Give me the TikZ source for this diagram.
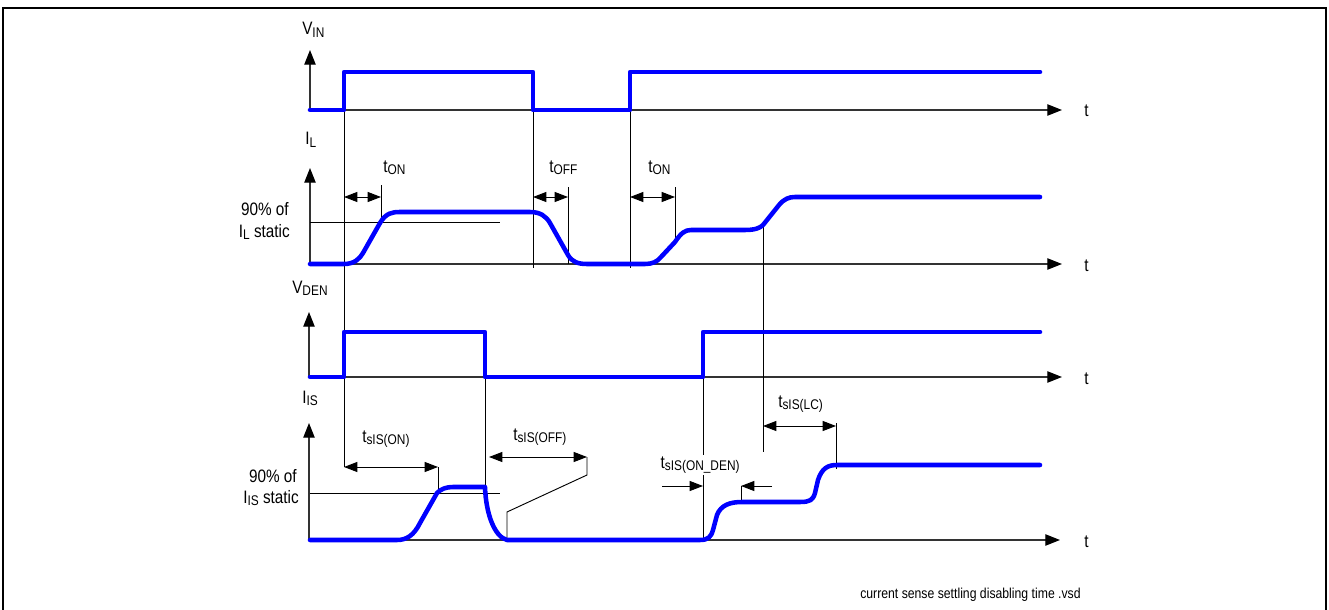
\documentclass[tikz,border=0pt]{standalone}
\usepackage{fontspec}
\setmainfont{Liberation Sans}[FakeStretch=0.85]
\usetikzlibrary{arrows.meta}
\newcommand{\sbx}[1]{\raisebox{-0.25ex}{\fontsize{10.5}{10.5}\selectfont #1}}
\begin{document}
\begin{tikzpicture}[x=0.75pt,y=-0.75pt,
  sig/.style={color=blue,line width=3.4pt,line cap=round,line join=round},
  guide/.style={line width=0.7pt},
  axis/.style={line width=0.9pt,color=black!80,-{Triangle[length=11pt,width=8.5pt,color=black]}},
  dimarr/.style={line width=0.75pt,{Triangle[length=10pt,width=7.5pt]}-{Triangle[length=10pt,width=7.5pt]}},
  onearr/.style={line width=0.75pt,-{Triangle[length=10pt,width=7.5pt]}},
  lbl/.style={inner sep=0pt,font=\fontsize{13.5}{16}\selectfont},
  small/.style={inner sep=0pt,font=\fontsize{10.8}{12}\selectfont}]
\useasboundingbox (0,0) rectangle (1329,610);
% frame
\draw[line width=1.5pt] (3,615) -- (3,8) -- (1326,8) -- (1326,615);

% axes
\draw[axis] (310,110) -- (310,50);
\draw[axis] (310,110) -- (1062,110);
\draw[axis] (310,264) -- (310,168);
\draw[axis] (310,264) -- (1062,264);
\draw[axis] (309,377) -- (309,312);
\draw[axis] (309,377) -- (1062,377);
\draw[axis] (309,540) -- (309,423);
\draw[axis] (309,540) -- (1060,540);

% guide lines
\draw[guide] (344,72) -- (344,467);
\draw[guide] (533,72) -- (533,268);
\draw[guide] (630,72) -- (630,268);
\draw[guide] (381,185) -- (381,222);
\draw[guide] (568,187) -- (568,264);
\draw[guide] (675,187) -- (675,243);
\draw[guide] (763,226) -- (763,452);
\draw[guide] (485,332) -- (485,487);
\draw[guide] (703,332) -- (703,540);
\draw[guide] (310,222) -- (500,222);
\draw[guide] (310,493) -- (500,493);
\draw[guide] (438,467) -- (438,493);
\draw[guide] (587,457) -- (587,475) -- (507,512) -- (507,540);
\draw[guide] (741,486) -- (741,502);
\draw[guide] (836,423) -- (836,469);

% dimension arrows
\draw[dimarr] (344,197) -- (381,197);
\draw[dimarr] (533,197) -- (568,197);
\draw[dimarr] (630,197) -- (675,197);
\draw[dimarr] (344,467) -- (438,467);
\draw[dimarr] (489,457) -- (587,457);
\draw[dimarr] (763,426) -- (836,426);
\draw[onearr] (662,486) -- (703,486);
\draw[onearr] (772,486) -- (741,486);

% signals
\draw[sig] (310,110) -- (344,110) -- (344,72) -- (533,72) -- (533,110) -- (630,110) -- (630,72) -- (1040,72);
\draw[sig] (310,264) -- (344,264) .. controls (355,264) and (360,258) .. (363,253) -- (380,223)
  .. controls (386,213) and (392,212) .. (400,212) -- (530,212)
  .. controls (540,212) and (546,216) .. (550,223) -- (568,255)
  .. controls (572,262) and (578,264) .. (587,264) -- (645,264)
  .. controls (652,264) and (657,262) .. (661,257) -- (675,242)
  .. controls (681,233) and (685,230) .. (691,230) -- (745,230)
  .. controls (755,230) and (760,228) .. (763,225) -- (779,205)
  .. controls (784,199) and (789,197) .. (795,197) -- (1040,197);
\draw[sig] (310,377) -- (344,377) -- (344,332) -- (485,332) -- (485,377) -- (703,377) -- (703,332) -- (1040,332);
\draw[sig] (310,540) -- (397,540) .. controls (407,540) and (414,535) .. (420,523) -- (437,493)
  .. controls (441,489) and (446,487) .. (453,487) -- (485,487)
  .. controls (486,515) and (495,537) .. (507,540) -- (700,540)
  .. controls (708,540) and (711,537) .. (713,530) -- (717,515)
  .. controls (721,505) and (730,502) .. (742,502) -- (800,502)
  .. controls (810,502) and (813,500) .. (815,493) -- (818,480)
  .. controls (822,468) and (828,465) .. (837,465) -- (1040,465);

% labels
\node[lbl,anchor=base west] (vin) at (302,35) {V\sbx{IN}};
\node[lbl,anchor=base west] (il) at (305,145) {I\sbx{L}};
\node[lbl,anchor=base west] (vden) at (292,293) {V\sbx{DEN}};
\node[lbl,anchor=base west] (iis) at (302,403) {I\sbx{IS}};
\node[lbl,anchor=base west] (t1) at (1084,117) {t};
\node[lbl,anchor=base west] (t2) at (1084,271) {t};
\node[lbl,anchor=base west] (t3) at (1084,384) {t};
\node[lbl,anchor=base west] (t4) at (1084,547) {t};
\node[lbl,anchor=base west] (ton1) at (383,172) {t\sbx{ON}};
\node[lbl,anchor=base west] (toff) at (549,172) {t\sbx{OFF}};
\node[lbl,anchor=base west] (ton2) at (648,172) {t\sbx{ON}};
\node[lbl,anchor=base east] (p1a) at (289,215) {90\% of};
\node[lbl,anchor=base east] (p1b) at (290,237) {I\sbx{L} static};
\node[lbl,anchor=base east] (p2a) at (297,482) {90\% of};
\node[lbl,anchor=base east] (p2b) at (299,503) {I\sbx{IS} static};
\node[lbl,anchor=base west] (tson) at (362,442) {t\sbx{sIS(ON)}};
\node[lbl,anchor=base west] (tsoff) at (513,440) {t\sbx{sIS(OFF)}};
\node[lbl,anchor=base west,fill=white,inner sep=1pt] (tsden) at (659,468) {t\sbx{sIS(ON\_DEN)}};
\node[lbl,anchor=base west] (tslc) at (778,407) {t\sbx{sIS(LC)}};
\node[small,anchor=base west] (file) at (860,598) {current sense settling disabling time .vsd};
\end{tikzpicture}
\end{document}
